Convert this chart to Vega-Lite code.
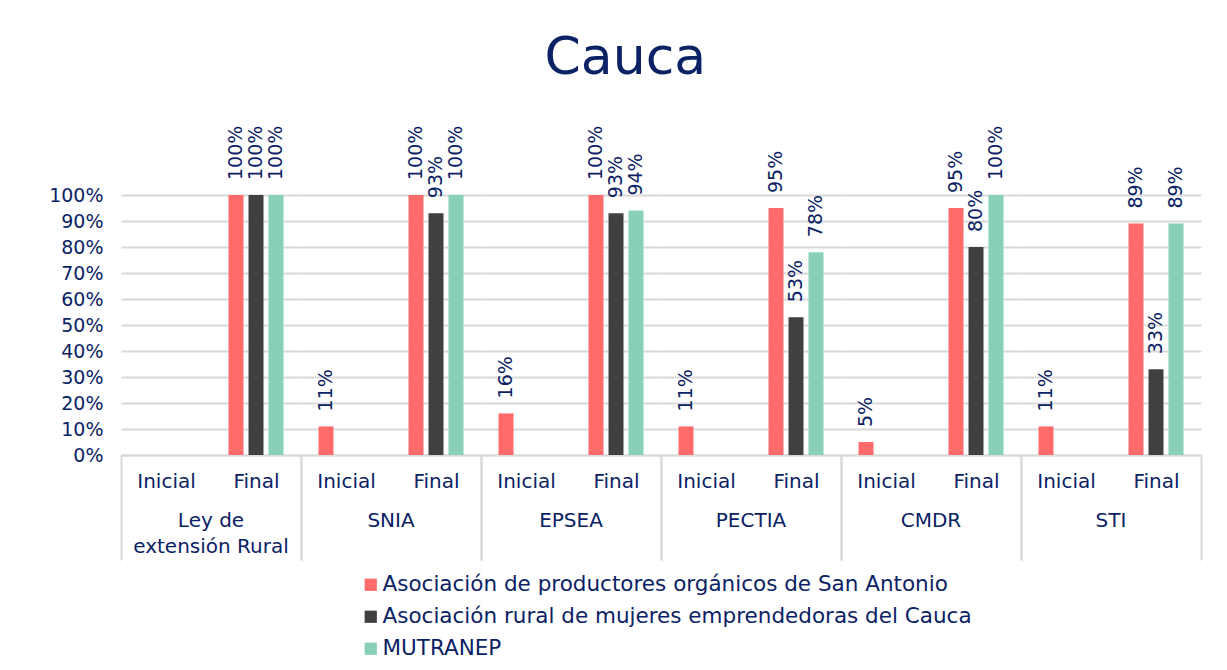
{
  "$schema": "https://vega.github.io/schema/vega-lite/v6.json",
  "background": "white",
  "padding": {"left": 48, "top": 31, "right": 20, "bottom": 5},
  "title": {"text": "Cauca", "fontSize": 52, "font": "DejaVu Sans", "fontWeight": "normal", "color": "#0b2265", "anchor": "middle", "offset": 41},
  "data": {"values": [
    {"grupo": "Ley de extensión Rural", "fase": "Inicial", "serie": "Asociación de productores orgánicos de San Antonio", "valor": 0},
    {"grupo": "Ley de extensión Rural", "fase": "Inicial", "serie": "Asociación rural de mujeres emprendedoras del Cauca", "valor": 0},
    {"grupo": "Ley de extensión Rural", "fase": "Inicial", "serie": "MUTRANEP", "valor": 0},
    {"grupo": "Ley de extensión Rural", "fase": "Final", "serie": "Asociación de productores orgánicos de San Antonio", "valor": 1.0},
    {"grupo": "Ley de extensión Rural", "fase": "Final", "serie": "Asociación rural de mujeres emprendedoras del Cauca", "valor": 1.0},
    {"grupo": "Ley de extensión Rural", "fase": "Final", "serie": "MUTRANEP", "valor": 1.0},
    {"grupo": "SNIA", "fase": "Inicial", "serie": "Asociación de productores orgánicos de San Antonio", "valor": 0.11},
    {"grupo": "SNIA", "fase": "Inicial", "serie": "Asociación rural de mujeres emprendedoras del Cauca", "valor": 0},
    {"grupo": "SNIA", "fase": "Inicial", "serie": "MUTRANEP", "valor": 0},
    {"grupo": "SNIA", "fase": "Final", "serie": "Asociación de productores orgánicos de San Antonio", "valor": 1.0},
    {"grupo": "SNIA", "fase": "Final", "serie": "Asociación rural de mujeres emprendedoras del Cauca", "valor": 0.93},
    {"grupo": "SNIA", "fase": "Final", "serie": "MUTRANEP", "valor": 1.0},
    {"grupo": "EPSEA", "fase": "Inicial", "serie": "Asociación de productores orgánicos de San Antonio", "valor": 0.16},
    {"grupo": "EPSEA", "fase": "Inicial", "serie": "Asociación rural de mujeres emprendedoras del Cauca", "valor": 0},
    {"grupo": "EPSEA", "fase": "Inicial", "serie": "MUTRANEP", "valor": 0},
    {"grupo": "EPSEA", "fase": "Final", "serie": "Asociación de productores orgánicos de San Antonio", "valor": 1.0},
    {"grupo": "EPSEA", "fase": "Final", "serie": "Asociación rural de mujeres emprendedoras del Cauca", "valor": 0.93},
    {"grupo": "EPSEA", "fase": "Final", "serie": "MUTRANEP", "valor": 0.94},
    {"grupo": "PECTIA", "fase": "Inicial", "serie": "Asociación de productores orgánicos de San Antonio", "valor": 0.11},
    {"grupo": "PECTIA", "fase": "Inicial", "serie": "Asociación rural de mujeres emprendedoras del Cauca", "valor": 0},
    {"grupo": "PECTIA", "fase": "Inicial", "serie": "MUTRANEP", "valor": 0},
    {"grupo": "PECTIA", "fase": "Final", "serie": "Asociación de productores orgánicos de San Antonio", "valor": 0.95},
    {"grupo": "PECTIA", "fase": "Final", "serie": "Asociación rural de mujeres emprendedoras del Cauca", "valor": 0.53},
    {"grupo": "PECTIA", "fase": "Final", "serie": "MUTRANEP", "valor": 0.78},
    {"grupo": "CMDR", "fase": "Inicial", "serie": "Asociación de productores orgánicos de San Antonio", "valor": 0.05},
    {"grupo": "CMDR", "fase": "Inicial", "serie": "Asociación rural de mujeres emprendedoras del Cauca", "valor": 0},
    {"grupo": "CMDR", "fase": "Inicial", "serie": "MUTRANEP", "valor": 0},
    {"grupo": "CMDR", "fase": "Final", "serie": "Asociación de productores orgánicos de San Antonio", "valor": 0.95},
    {"grupo": "CMDR", "fase": "Final", "serie": "Asociación rural de mujeres emprendedoras del Cauca", "valor": 0.80},
    {"grupo": "CMDR", "fase": "Final", "serie": "MUTRANEP", "valor": 1.0},
    {"grupo": "STI", "fase": "Inicial", "serie": "Asociación de productores orgánicos de San Antonio", "valor": 0.11},
    {"grupo": "STI", "fase": "Inicial", "serie": "Asociación rural de mujeres emprendedoras del Cauca", "valor": 0},
    {"grupo": "STI", "fase": "Inicial", "serie": "MUTRANEP", "valor": 0},
    {"grupo": "STI", "fase": "Final", "serie": "Asociación de productores orgánicos de San Antonio", "valor": 0.89},
    {"grupo": "STI", "fase": "Final", "serie": "Asociación rural de mujeres emprendedoras del Cauca", "valor": 0.33},
    {"grupo": "STI", "fase": "Final", "serie": "MUTRANEP", "valor": 0.89}
  ]},
  "spacing": 0,
  "facet": {
    "column": {
      "field": "grupo", "type": "nominal",
      "sort": ["Ley de extensión Rural", "SNIA", "EPSEA", "PECTIA", "CMDR", "STI"],
      "header": {
        "title": null,
        "labelOrient": "bottom",
        "labelPadding": -50,
        "labelFont": "DejaVu Sans",
        "labelFontSize": 20,
        "labelColor": "#0b2265",
        "labelLineHeight": 26,
        "labelBaseline": "top",
        "labelExpr": "datum.value === 'Ley de extensión Rural' ? ['Ley de', 'extensión Rural'] : datum.value"
      }
    }
  },
  "spec": {
    "width": 180,
    "height": 260,
    "encoding": {
      "x": {
        "field": "fase", "type": "nominal", "sort": ["Inicial", "Final"],
        "scale": {"paddingInner": 0, "paddingOuter": 0},
        "axis": {
          "title": null, "labelAngle": 0, "labelFont": "DejaVu Sans", "labelFontSize": 20, "labelColor": "#0b2265",
          "domainColor": "#d9d9d9", "domainWidth": 2,
          "ticks": true, "tickBand": "extent", "tickColor": "#d9d9d9", "tickWidth": 2, "tickSize": 105,
          "tickOpacity": {"condition": {"test": "datum.value === 'Inicial'", "value": 0}, "value": 1},
          "labelPadding": -89
        }
      },
      "xOffset": {
        "field": "serie", "type": "nominal",
        "sort": ["Asociación de productores orgánicos de San Antonio", "Asociación rural de mujeres emprendedoras del Cauca", "MUTRANEP"],
        "scale": {"paddingInner": 0.25, "paddingOuter": 0.875}
      },
      "y": {
        "field": "valor", "type": "quantitative",
        "scale": {"domain": [0, 1]},
        "axis": {
          "title": null, "format": ".0%", "values": [0, 0.1, 0.2, 0.3, 0.4, 0.5, 0.6, 0.7, 0.8, 0.9, 1.0],
          "domain": false, "ticks": false, "labelPadding": 18,
          "labelFont": "DejaVu Sans", "labelFontSize": 19, "labelColor": "#0b2265",
          "grid": true, "gridColor": "#d9d9d9", "gridWidth": 2
        }
      }
    },
    "layer": [
      {
        "mark": {"type": "bar"},
        "encoding": {
          "color": {
            "field": "serie", "type": "nominal",
            "sort": ["Asociación de productores orgánicos de San Antonio", "Asociación rural de mujeres emprendedoras del Cauca", "MUTRANEP"],
            "scale": {"range": ["#ff6b6b", "#404040", "#88d1b7"]},
            "legend": {
              "title": null, "orient": "none", "legendX": 239, "legendY": 379, "direction": "vertical",
              "symbolType": "square", "symbolSize": 150, "symbolStrokeWidth": 0, "symbolOffset": 0,
              "labelFont": "DejaVu Sans", "labelFontSize": 21.5, "labelColor": "#0b2265", "labelOffset": 1,
              "rowPadding": 9, "labelLimit": 800
            }
          }
        }
      },
      {
        "transform": [{"filter": "datum.valor > 0"}],
        "mark": {"type": "text", "angle": 270, "align": "left", "baseline": "middle", "dx": 15, "font": "DejaVu Sans", "fontSize": 19, "color": "#0b2265"},
        "encoding": {"text": {"field": "valor", "type": "quantitative", "format": ".0%"}}
      }
    ]
  },
  "config": {"view": {"stroke": null}}
}
